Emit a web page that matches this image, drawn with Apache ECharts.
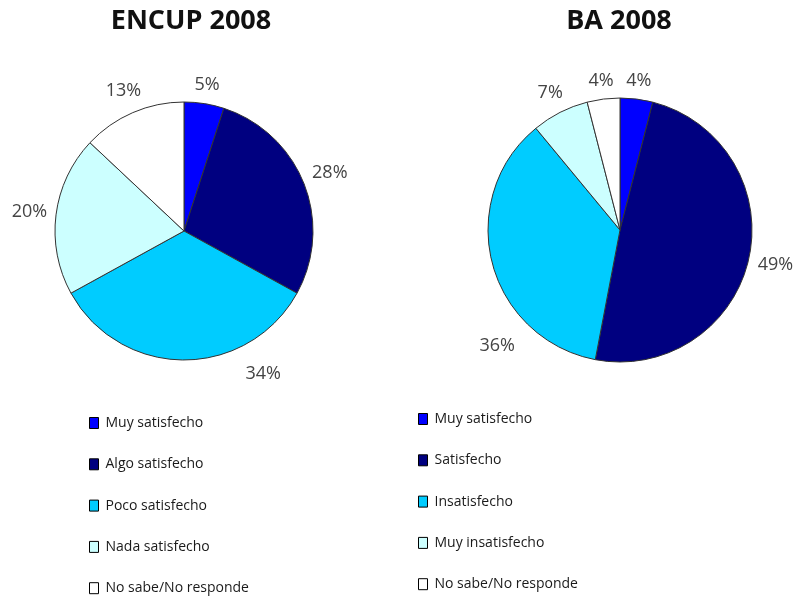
<!DOCTYPE html>
<html>
<head>
<meta charset="utf-8">
<script src="https://cdn.jsdelivr.net/npm/echarts@6/dist/echarts.min.js"></script>
<style>
  html, body { margin: 0; padding: 0; background: #fff; }
  #chart { width: 797px; height: 599px; }
</style>
</head>
<body>
<div id="chart"></div>
<script>
var encupNames = ['Muy satisfecho', 'Algo satisfecho', 'Poco satisfecho', 'Nada satisfecho', 'No sabe/No responde'];
var encupValues = [5, 28, 34, 20, 13];

var baNames = ['Muy satisfecho', 'Satisfecho', 'Insatisfecho', 'Muy insatisfecho', 'No sabe/No responde'];
var baValues = [4, 49, 36, 7, 4];

var sliceColors = ['#0000ff', '#000080', '#00ccff', '#ccffff', '#ffffff'];

// the big lower slice's label sits off to one side in the original (degrees)
var encupLabelTurn = [0, 0, -29, 0, 0];
var baLabelTurn = [0, 0, -29, 0, 0];

var FONT = '"Open Sans", "Noto Sans", sans-serif';

function pieData(names, values) {
    return names.map(function (n, i) {
        return { name: n, value: values[i], itemStyle: { color: sliceColors[i] } };
    });
}

// put each label just outside its slice, centred on the slice's middle angle
function outerLabel(values, turn, cx, cy, r) {
    var total = values.reduce(function (a, b) { return a + b; }, 0);
    return function (params) {
        var k = params.dataIndex;
        var before = 0;
        for (var i = 0; i < k; i++) before += values[i];
        var mid = (before + values[k] / 2) / total * 2 * Math.PI + turn[k] * Math.PI / 180;
        var s = Math.sin(mid), c = Math.cos(mid);
        var w = params.labelRect.width, h = params.labelRect.height;
        var d = r + (turn[k] ? 18 : 8) + w / 2 * Math.abs(s) + h / 2 * Math.abs(c);
        return { x: cx + d * s, y: cy - d * c, align: 'center', verticalAlign: 'middle' };
    };
}

var pieStyle = {
    type: 'pie',
    startAngle: 90,
    clockwise: true,
    avoidLabelOverlap: false,
    animation: false,
    silent: true,
    itemStyle: { borderColor: '#333', borderWidth: 1 },
    label: {
        show: true,
        position: 'outside',
        formatter: '{c}%',
        color: '#444',
        fontSize: 18,
        fontFamily: FONT
    },
    labelLine: { show: false },
    emphasis: { disabled: true }
};

function legendFor(names, left, top, gap) {
    return {
        orient: 'vertical',
        left: left,
        top: top,
        padding: 0,
        itemWidth: 9,
        itemHeight: 11,
        itemGap: gap,
        icon: 'rect',
        selectedMode: false,
        data: names,
        itemStyle: { borderColor: '#000', borderWidth: 1 },
        textStyle: { color: '#1a1a1a', fontSize: 14, fontFamily: FONT, lineHeight: 16, padding: [0, 0, 0, 2] }
    };
}

var chart = echarts.init(document.getElementById('chart'));
chart.setOption({
    backgroundColor: '#fff',
    title: [
        { text: 'ENCUP 2008', left: 191, top: 8, textAlign: 'center', padding: 0,
          textStyle: { fontSize: 27, fontWeight: 'bold', color: '#111', fontFamily: FONT } },
        { text: 'BA 2008', left: 619, top: 8, textAlign: 'center', padding: 0,
          textStyle: { fontSize: 27, fontWeight: 'bold', color: '#111', fontFamily: FONT } }
    ],
    legend: [
        legendFor(encupNames, 89, 415, 25.3),
        legendFor(baNames, 418, 411, 25.3)
    ],
    series: [
        Object.assign({}, pieStyle, {
            name: 'ENCUP 2008',
            center: [184, 231],
            radius: 129,
            labelLayout: outerLabel(encupValues, encupLabelTurn, 184, 231, 129),
            data: pieData(encupNames, encupValues)
        }),
        Object.assign({}, pieStyle, {
            name: 'BA 2008',
            center: [620, 230],
            radius: 132,
            labelLayout: outerLabel(baValues, baLabelTurn, 620, 230, 132),
            data: pieData(baNames, baValues)
        })
    ]
});
</script>
</body>
</html>
